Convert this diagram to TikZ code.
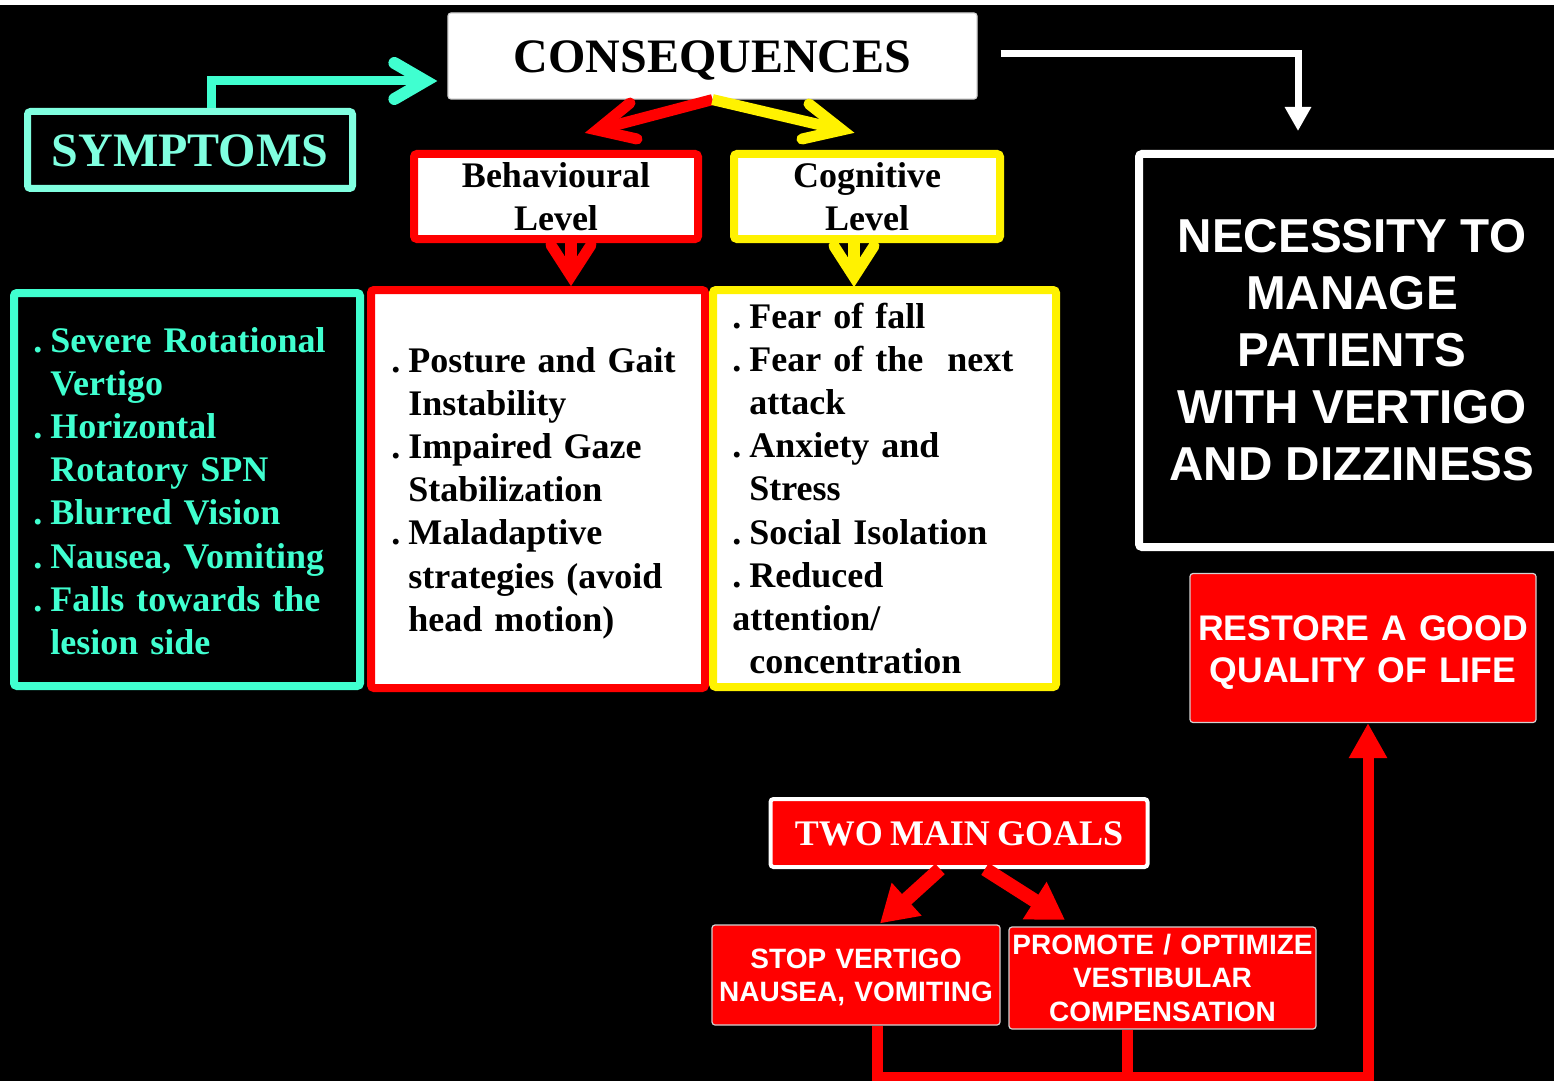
\documentclass[tikz,border=0pt]{standalone}
\usepackage{fontspec}
\setmainfont[WordSpace=0.8]{Liberation Serif}
\newfontfamily\sansf{Liberation Sans}
\usetikzlibrary{arrows.meta,calc}
\definecolor{aqlight}{RGB}{128,255,224}
\definecolor{aqdark}{RGB}{64,255,208}
\definecolor{gborder}{RGB}{210,210,210}
\newcommand\lstdot{\makebox[8.5pt][l]{.}}
\newcommand\lstind{\hspace*{8.5pt}}
\begin{document}
\begin{tikzpicture}[x=0.5pt,y=-0.5pt,
  box/.style={rectangle, inner sep=0pt, rounded corners=1.5pt},
  serifbig/.style={font=\bfseries\fontsize{24}{28}\selectfont},
  seriflst/.style={font=\bfseries\fontsize{18}{21.6}\selectfont},
  lsttext/.style={seriflst, anchor=base west, inner sep=0pt, text width=172pt, align=left},
  ctext/.style={anchor=base, inner sep=0pt, align=center, text=white},
  chev/.style={line cap=round, line join=miter},
  redbox/.style={box, fill=red, draw=gborder, line width=0.6pt}]
\useasboundingbox (0,0) rectangle (1554,1081);
\fill[black] (0,0) rectangle (1554,1081);
\fill[white] (0,0) rectangle (1554,5);

% --- nodes ---
\node[box, fill=white, draw=gborder, line width=0.6pt, minimum width=264.5pt, minimum height=43pt, serifbig, text height=17pt, text depth=0pt] (cons) at (712.5,56) {CONSEQUENCES};
\node[box, draw=aqlight, line width=3.5pt, minimum width=162.5pt, minimum height=38.5pt, serifbig, text=aqlight, text height=16.5pt, text depth=0pt] (symp) at (190,150) {SYMPTOMS};

\node[box, fill=white, draw=red, line width=4pt, minimum width=142pt, minimum height=42.5pt, seriflst, align=center] (blev) at (556,196.5) {Behavioural\\Level};
\node[box, fill=white, draw=yellow, line width=4pt, minimum width=133pt, minimum height=42.5pt, seriflst, align=center] (clev) at (867,196.5) {Cognitive\\Level};

\node[box, fill=black, draw=aqdark, line width=4pt, minimum width=173pt, minimum height=196.5pt] (slist) at (187,489.5) {};
\node[box, fill=white, draw=red, line width=4pt, minimum width=167pt, minimum height=199pt] (blist) at (538,489) {};
\node[box, fill=white, draw=yellow, line width=4pt, minimum width=171.5pt, minimum height=198.5pt] (clist) at (884.5,488.5) {};

\node[lsttext, text=aqdark] (slisttext) at (33,352) {\lstdot Severe Rotational\\ \lstind Vertigo\\ \lstdot Horizontal\\ \lstind Rotatory SPN\\ \lstdot Blurred Vision\\ \lstdot Nausea, Vomiting\\ \lstdot Falls towards the\\ \lstind lesion side};
\node[lsttext, text=black] (blisttext) at (391,372) {\lstdot Posture and Gait\\ \lstind Instability\\ \lstdot Impaired Gaze\\ \lstind Stabilization\\ \lstdot Maladaptive\\ \lstind strategies (avoid\\ \lstind head motion)};
\node[lsttext, text=black] (clisttext) at (732,328) {\lstdot Fear of fall\\ \lstdot Fear of the\ \ next\\ \lstind attack\\ \lstdot Anxiety and\\ \lstind Stress\\ \lstdot Social Isolation\\ \lstdot Reduced\\ attention/\\ \lstind concentration};

\node[box, fill=black, draw=white, line width=4pt, minimum width=213pt, minimum height=196.5pt, text=white, align=center, font=\sansf\bfseries\fontsize{23.8}{28.5}\selectfont] (need) at (1352,350.5) {NECESSITY TO\\MANAGE\\PATIENTS\\WITH VERTIGO\\AND DIZZINESS};

\node[redbox, minimum width=173pt, minimum height=74.5pt] (rest) at (1363,648) {};
\node[ctext, text width=173pt, font=\sansf\bfseries\fontsize{17.8}{21}\selectfont] (resttext) at (1363,640) {RESTORE A GOOD\\QUALITY OF LIFE};

\node[box, fill=red, draw=white, line width=2pt, minimum width=188.5pt, minimum height=34pt, text=white, font=\bfseries\fontsize{18}{21}\selectfont, text height=12pt, text depth=0pt] (goals) at (959,833) {TWO MAIN GOALS};

\node[redbox, minimum width=144pt, minimum height=50pt] (stop) at (856,975) {};
\node[ctext, text width=144pt, font=\sansf\bfseries\fontsize{14}{16.8}\selectfont] (stoptext) at (856,968) {STOP VERTIGO\\NAUSEA, VOMITING};
\node[redbox, minimum width=153.5pt, minimum height=51pt] (prom) at (1162.5,978) {};
\node[ctext, text width=153.5pt, font=\sansf\bfseries\fontsize{14}{16.8}\selectfont] (promtext) at (1162.5,954) {PROMOTE / OPTIMIZE\\VESTIBULAR\\COMPENSATION};

% --- connectors ---
% symptoms -> consequences
\coordinate (stip) at ($(cons.west)+(-22,25)$);
\draw[aqdark, line width=4.5pt] ($(symp.north)+(21,0)$) |- (stip);
\draw[aqdark, line width=6pt, chev] (stip) ++(-31,-18) -- (stip) -- ++(-31,18);

% consequences -> necessity
\draw[white, line width=3.5pt, -{Triangle[length=12pt,width=12.5pt]}] ($(cons.east)+(23,-2)$) -| ($(need.north)+(-54,-19)$);

% consequences -> behavioural / cognitive
\coordinate (rtip) at ($(blev.north)+(41,-20)$);
\coordinate (ytip) at ($(clev.north)+(-25,-20)$);
\draw[red, line width=5.5pt] (cons.south) -- (rtip);
\draw[red, line width=5.5pt, chev] (rtip) ++(33,-27) -- (rtip) -- ++(40,9);
\draw[yellow, line width=5.5pt] (cons.south) -- (ytip);
\draw[yellow, line width=5.5pt, chev] (ytip) ++(-33,-26) -- (ytip) -- ++(-40,9);

% level -> list
\coordinate (btip) at ($(blist.north)+(33,-10)$);
\coordinate (ctip) at ($(clist.north)+(-30.5,-9)$);
\draw[red, line width=6pt] ($(blev.south)+(15,0)$) -- ($(blev.south)+(15,32)$);
\draw[red, line width=5.5pt, chev] (btip) ++(-20,-31) -- (btip) -- ++(20,-31);
\draw[yellow, line width=6pt] ($(clev.south)+(-13,0)$) -- ($(clev.south)+(-13,32)$);
\draw[yellow, line width=5.5pt, chev] (ctip) ++(-20,-31) -- (ctip) -- ++(20,-31);

% goals -> two boxes
\draw[red, line width=7pt, -{Triangle[length=18pt,width=21pt]}] ($(goals.south)+(-19,0)$) -- ($(stop.north)+(24,-1)$);
\draw[red, line width=7pt, -{Triangle[length=18pt,width=21pt]}] ($(goals.south)+(26,0)$) -- ($(prom.north)+(-97.5,-6.5)$);

% bottom loop -> restore
\coordinate (bcorner) at ($(stop.south)+(21,52)$);
\draw[red, line width=5.5pt, line join=miter, -{Triangle[length=17.5pt,width=18pt]}] ($(stop.south)+(21,0)$) -- (bcorner) -| ($(rest.south)+(5,0)$);
\coordinate (pj) at ($(prom.south)+(-35.5,0)$);
\draw[red, line width=5.5pt] (pj) -- (pj |- bcorner);
\end{tikzpicture}
\end{document}
